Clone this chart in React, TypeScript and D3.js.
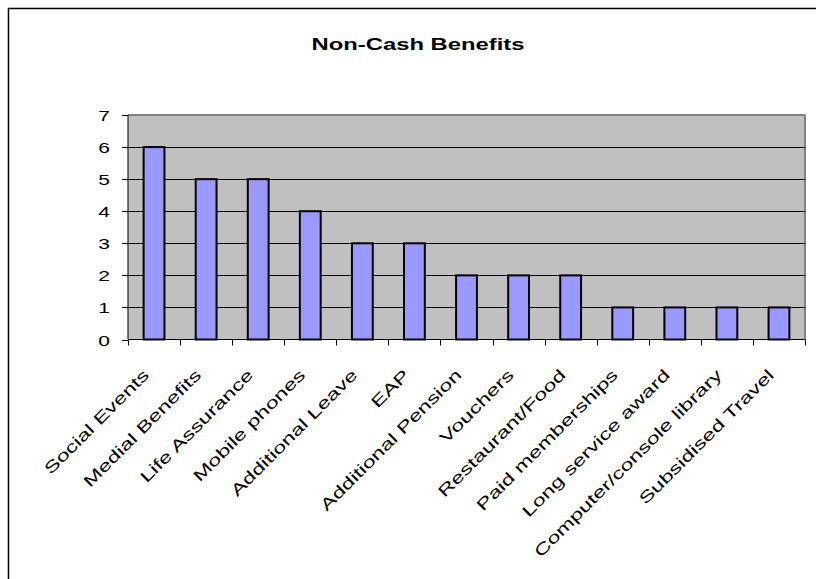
import React from "react";
import * as d3 from "d3";

const categories = [
  "Social Events",
  "Medial Benefits",
  "Life Assurance",
  "Mobile phones",
  "Additional Leave",
  "EAP",
  "Additional Pension",
  "Vouchers",
  "Restaurant/Food",
  "Paid memberships",
  "Long service award",
  "Computer/console library",
  "Subsidised Travel",
];
const values = [6, 5, 5, 4, 3, 3, 2, 2, 2, 1, 1, 1, 1];
const yTicks = [0, 1, 2, 3, 4, 5, 6, 7];
const title = "Non-Cash Benefits";

export default function App() {
  const W = 816, H = 579;
  const left = 128, right = 805, top = 115, bottom = 339.5;
  const x = d3.scaleBand<string>().domain(categories).range([left, right]).paddingInner(0.6).paddingOuter(0.3);
  const band = d3.scaleBand<string>().domain(categories).range([left, right]);
  const y = d3.scaleLinear().domain([0, 7]).range([bottom, top]);
  const font = "'Liberation Sans', Arial, sans-serif";
  return (
    <svg width={W} height={H} style={{ position: "absolute", left: 0, top: 0 }}>
      <rect x={0} y={0} width={W} height={H} fill="#fff" />
      <rect x={8.5} y={8.5} width={830} height={620} fill="none" stroke="#000" strokeWidth={1.5} />
      <text transform={`translate(418,50) scale(1.4,1)`} textAnchor="middle" fontFamily={font} fontWeight="bold" fontSize={17}>{title}</text>
      <rect x={left} y={top} width={right - left} height={bottom - top} fill="#C0C0C0" />
      <line x1={left} y1={top} x2={right} y2={top} stroke="#808080" strokeWidth={2} />
      <line x1={right} y1={top} x2={right} y2={bottom} stroke="#808080" strokeWidth={2} />
      {yTicks.filter(t => t > 0 && t < 7).map(t => (
        <line key={"g" + t} x1={left} x2={right} y1={Math.round(y(t)) + 0.5} y2={Math.round(y(t)) + 0.5} stroke="#000" strokeWidth={1} />
      ))}
      {categories.map((c, i) => (
        <rect key={c} x={x(c)} y={y(values[i])} width={x.bandwidth()} height={bottom - y(values[i])} fill="#9999FF" stroke="#000" strokeWidth={2} />
      ))}
      <line x1={left} y1={top} x2={left} y2={bottom} stroke="#000" strokeWidth={1} />
      <line x1={left} y1={bottom} x2={right} y2={bottom} stroke="#000" strokeWidth={1} />
      {yTicks.map(t => (
        <g key={"y" + t}>
          <line x1={left - 6} x2={left} y1={Math.round(y(t)) + 0.5} y2={Math.round(y(t)) + 0.5} stroke="#000" />
          <text transform={`translate(110,${y(t) + 6}) scale(1.4,1)`} textAnchor="end" fontFamily={font} fontSize={15}>{t}</text>
        </g>
      ))}
      {[...categories.map(c => band(c) as number), right].map((v, i) => (
        <line key={"xt" + i} x1={Math.round(v) + 0.5} x2={Math.round(v) + 0.5} y1={bottom} y2={bottom + 6} stroke="#000" />
      ))}
      {categories.map(c => {
        const cx = (band(c) as number) + band.bandwidth() / 2;
        return (
          <text key={"l" + c} transform={`translate(${cx - 4},376) rotate(-45) scale(1.45,1)`} textAnchor="end" fontFamily={font} fontSize={16}>{c}</text>
        );
      })}
    </svg>
  );
}
